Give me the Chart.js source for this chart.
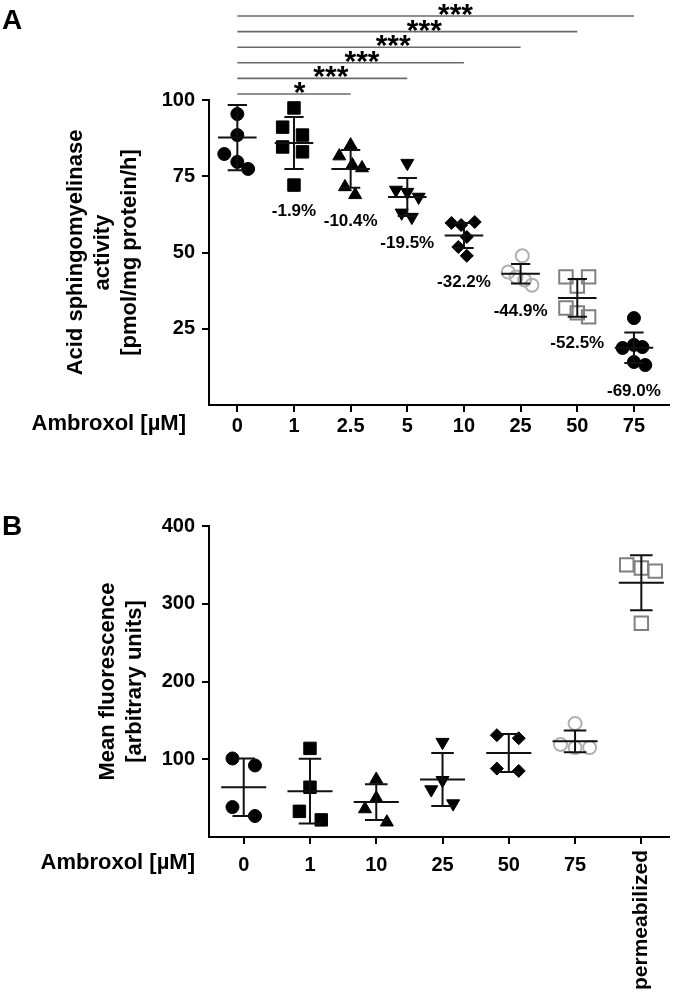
<!DOCTYPE html>
<html>
<head>
<meta charset="utf-8">
<script src="https://cdn.jsdelivr.net/npm/chart.js@4.4.0/dist/chart.umd.min.js"></script>
<style>
    html, body { margin: 0; padding: 0; background: #fff; }
    #wrap { position: relative; width: 680px; height: 998px; }
    .panel { position: absolute; left: 0; width: 680px; }
    #boxA { top: 0; height: 450px; }
    #boxB { top: 450px; height: 548px; }
</style>
</head>
<body>
<div id="wrap">
    <div class="panel" id="boxA"><canvas id="chartA" width="680" height="450"></canvas></div>
    <div class="panel" id="boxB"><canvas id="chartB" width="680" height="548"></canvas></div>
</div>
<script>
// ---- Panel A: acid sphingomyelinase activity ----
const doseA = ['0', '1', '2.5', '5', '10', '25', '50', '75'];
const pointsA = [
    [95.4, 88.5, 82.3, 79.7, 77.4],
    [97.4, 91.1, 88.5, 84.6, 83.0, 72.1],
    [85.2, 81.6, 78.7, 77.7, 71.5, 68.9],
    [79.3, 70.5, 69.8, 68.2, 63.0, 61.6],
    [59.7, 59.0, 60.0, 55.1, 51.8, 48.9],
    [48.9, 43.6, 42.0, 41.0, 39.3],
    [42.0, 42.0, 39.0, 31.8, 30.2, 28.9],
    [28.5, 18.7, 19.7, 19.0, 14.1, 13.1]
];
// horizontal scatter of each point inside its column (in column widths)
const jitterA = [
    [0, 0, -0.23, 0, 0.19],
    [0, -0.2, 0.15, -0.2, 0.15, 0],
    [0, -0.2, 0.03, 0.2, -0.1, 0.08],
    [0, -0.2, 0, 0.2, -0.1, 0.08],
    [-0.22, -0.05, 0.19, 0.05, -0.1, 0.05],
    [0.03, -0.22, -0.08, 0.07, 0.2],
    [-0.2, 0.2, 0, -0.2, 0, 0.2],
    [0, -0.2, 0, 0.15, 0, 0.2]
];
const meanA = [87.7, 85.9, 77.4, 68.2, 55.6, 43.0, 35.1, 18.8];
const sdA = [10.7, 8.5, 6.2, 6.2, 4.1, 3.2, 6.2, 5.0];
const percentA = ['', '-1.9%', '-10.4%', '-19.5%', '-32.2%', '-44.9%', '-52.5%', '-69.0%'];
const sigTargets = [2, 3, 4, 5, 6, 7];
const sigStars = ['*', '***', '***', '***', '***', '***'];
const yTicksA = [25, 50, 75, 100];

// ---- Panel B: mean fluorescence ----
const doseB = ['0', '1', '10', '25', '50', '75', 'permeabilized'];
const pointsB = [
    [101, 92, 38.5, 27],
    [114, 64, 33, 22],
    [74, 50, 36, 19],
    [122, 73, 61, 43],
    [131, 127, 88, 85],
    [146, 119, 115, 115],
    [350, 346, 342, 275]
];
const jitterB = [
    [-0.17, 0.17, -0.17, 0.17],
    [0, 0, -0.16, 0.17],
    [0, 0, -0.17, 0.16],
    [0, 0, -0.17, 0.16],
    [-0.18, 0.15, -0.18, 0.15],
    [0, -0.22, 0, 0.22],
    [-0.22, 0, 0.21, 0]
];
const meanB = [64, 59, 45, 74, 108, 123, 327];
const sdB = [37, 41.5, 23, 34, 24.5, 14, 35.5];
const yTicksB = [100, 200, 300, 400];

const FONT = "'Liberation Sans', Arial, sans-serif";
const markerA = [
    { pointStyle: 'circle', radius: 6.5, fill: '#000', stroke: '#000' },
    { pointStyle: 'rect', radius: 8.8, fill: '#000', stroke: '#000' },
    { pointStyle: 'triangle', radius: 7.5, fill: '#000', stroke: '#000' },
    { pointStyle: 'triangle', radius: 7.5, fill: '#000', stroke: '#000', rotation: 180 },
    { pointStyle: 'rectRot', radius: 6.5, fill: '#000', stroke: '#000' },
    { pointStyle: 'circle', radius: 6.5, fill: 'rgba(255,255,255,0)', stroke: '#b0b0b0', border: 2 },
    { pointStyle: 'rect', radius: 9.5, fill: 'rgba(255,255,255,0)', stroke: '#808080', border: 2 },
    { pointStyle: 'circle', radius: 6.5, fill: '#000', stroke: '#000' }
];
const markerB = [markerA[0], markerA[1], markerA[2], markerA[3], markerA[4], markerA[5], markerA[6]];

function buildDatasets(points, jitter, markers) {
    return points.map((vals, i) => {
        const m = markers[i];
        return {
            data: vals.map((v, k) => ({ x: i + jitter[i][k], y: v })),
            pointStyle: m.pointStyle,
            pointRadius: m.radius,
            pointRotation: m.rotation || 0,
            pointBackgroundColor: m.fill,
            pointBorderColor: m.stroke,
            pointBorderWidth: m.border || 1,
            showLine: false
        };
    });
}

// mean line with SD whiskers, drawn through the chart scales
function drawErrorBars(chart, means, sds) {
    const { ctx, scales: { x, y } } = chart;
    ctx.save();
    ctx.strokeStyle = '#111';
    ctx.lineWidth = 2;
    means.forEach((m, i) => {
        const cx = x.getPixelForValue(i);
        const w = x.getPixelForValue(i + 0.34) - cx;
        const c = x.getPixelForValue(i + 0.17) - cx;
        const yM = y.getPixelForValue(m);
        const yT = y.getPixelForValue(m + sds[i]);
        const yB = y.getPixelForValue(m - sds[i]);
        ctx.beginPath();
        ctx.moveTo(cx - w, yM); ctx.lineTo(cx + w, yM);
        ctx.moveTo(cx, yT); ctx.lineTo(cx, yB);
        ctx.moveTo(cx - c, yT); ctx.lineTo(cx + c, yT);
        ctx.moveTo(cx - c, yB); ctx.lineTo(cx + c, yB);
        ctx.stroke();
    });
    ctx.restore();
}

function axisStyle(extra) {
    return Object.assign({
        grid: { display: true, drawOnChartArea: false, drawTicks: true, tickLength: 7, color: '#000', lineWidth: 2 },
        border: { display: true, color: '#000', width: 2 }
    }, extra);
}

const panelAPlugin = {
    id: 'panelA',
    afterDatasetsDraw(chart) {
        drawErrorBars(chart, meanA, sdA);
        const { ctx, scales: { x, y }, chartArea } = chart;
        ctx.save();
        ctx.fillStyle = '#000';
        ctx.font = 'bold 17px ' + FONT;
        ctx.textAlign = 'center';
        ctx.textBaseline = 'middle';
        percentA.forEach((txt, i) => {
            if (!txt) return;
            const lowest = Math.min(...pointsA[i]);
            ctx.fillText(txt, x.getPixelForValue(i), y.getPixelForValue(lowest) + 26);
        });
        // significance brackets against the 0 µM group
        const x0 = x.getPixelForValue(0);
        sigTargets.forEach((t, k) => {
            const ly = chartArea.top - 6 - 15.6 * k;
            const x1 = x.getPixelForValue(t);
            ctx.strokeStyle = '#6a6a6a';
            ctx.lineWidth = 1.6;
            ctx.beginPath();
            ctx.moveTo(x0, ly); ctx.lineTo(x1, ly);
            ctx.stroke();
            ctx.font = 'bold 30px ' + FONT;
            ctx.textBaseline = 'alphabetic';
            ctx.fillText(sigStars[k], x0 + 0.55 * (x1 - x0), ly + 8);
        });
        ctx.restore();
    },
    afterDraw(chart) {
        const { ctx } = chart;
        ctx.save();
        ctx.fillStyle = '#000';
        ctx.font = 'bold 28px ' + FONT;
        ctx.textAlign = 'left';
        ctx.textBaseline = 'alphabetic';
        ctx.fillText('A', 2, 29);
        ctx.font = 'bold 22px ' + FONT;
        ctx.textAlign = 'right';
        ctx.textBaseline = 'middle';
        ctx.fillText('Ambroxol [\u00b5M]', 186, 424);
        ctx.restore();
    }
};

const panelBPlugin = {
    id: 'panelB',
    afterDatasetsDraw(chart) {
        drawErrorBars(chart, meanB, sdB);
    },
    afterDraw(chart) {
        const { ctx, scales: { x }, chartArea } = chart;
        ctx.save();
        ctx.fillStyle = '#000';
        ctx.font = 'bold 28px ' + FONT;
        ctx.textAlign = 'left';
        ctx.textBaseline = 'alphabetic';
        ctx.fillText('B', 2, 85);
        ctx.font = 'bold 22px ' + FONT;
        ctx.textAlign = 'right';
        ctx.textBaseline = 'middle';
        ctx.fillText('Ambroxol [\u00b5M]', 195, 413);
        // the last category label is written vertically
        const last = doseB.length - 1;
        ctx.translate(x.getPixelForValue(last), chartArea.bottom + 13);
        ctx.rotate(-Math.PI / 2);
        ctx.font = 'bold 21px ' + FONT;
        ctx.textAlign = 'right';
        ctx.fillText(doseB[last], 0, 0);
        ctx.restore();
    }
};

new Chart(document.getElementById('chartA'), {
    type: 'scatter',
    data: { datasets: buildDatasets(pointsA, jitterA, markerA) },
    options: {
        responsive: false,
        animation: false,
        devicePixelRatio: 1,
        layout: { padding: { top: 100, left: 0, right: 8, bottom: 0 } },
        plugins: { legend: { display: false }, tooltip: { enabled: false } },
        scales: {
            x: axisStyle({
                type: 'linear', min: -0.5, max: 7.61,
                afterBuildTicks: s => { s.ticks = doseA.map((d, i) => ({ value: i })); },
                afterFit: s => { s.height = 45; },
                ticks: { callback: v => doseA[v], color: '#000', font: { family: FONT, size: 20, weight: 'bold' }, padding: 2, maxRotation: 0, autoSkip: false }
            }),
            y: axisStyle({
                min: 0, max: 100,
                afterBuildTicks: s => { s.ticks = yTicksA.map(v => ({ value: v })); },
                afterFit: s => { s.width = 209; },
                ticks: { color: '#000', font: { family: FONT, size: 20, weight: 'bold' }, padding: 7 },
                title: {
                    display: true,
                    text: ['Acid sphingomyelinase', 'activity', '[pmol/mg protein/h]'],
                    color: '#000',
                    font: { family: FONT, size: 22, weight: 'bold', lineHeight: 1.23 },
                    padding: { top: 62, bottom: 0 }
                }
            })
        }
    },
    plugins: [panelAPlugin]
});

new Chart(document.getElementById('chartB'), {
    type: 'scatter',
    data: { datasets: buildDatasets(pointsB, jitterB, markerB) },
    options: {
        responsive: false,
        animation: false,
        devicePixelRatio: 1,
        layout: { padding: { top: 76, left: 0, right: 8, bottom: 0 } },
        plugins: { legend: { display: false }, tooltip: { enabled: false } },
        scales: {
            x: axisStyle({
                type: 'linear', min: -0.524, max: 6.41,
                afterBuildTicks: s => { s.ticks = doseB.map((d, i) => ({ value: i })); },
                afterFit: s => { s.height = 161; },
                ticks: {
                    callback: v => (v === doseB.length - 1 ? '' : doseB[v]),
                    color: '#000', font: { family: FONT, size: 20, weight: 'bold' }, padding: 9, maxRotation: 0, autoSkip: false
                }
            }),
            y: axisStyle({
                min: 0, max: 400,
                afterBuildTicks: s => { s.ticks = yTicksB.map(v => ({ value: v })); },
                afterFit: s => { s.width = 209; },
                ticks: { color: '#000', font: { family: FONT, size: 20, weight: 'bold' }, padding: 7 },
                title: {
                    display: true,
                    text: ['Mean fluorescence', '[arbitrary units]'],
                    color: '#000',
                    font: { family: FONT, size: 22, weight: 'bold', lineHeight: 1.25 },
                    padding: { top: 94, bottom: 0 }
                }
            })
        }
    },
    plugins: [panelBPlugin]
});
</script>
</body>
</html>
